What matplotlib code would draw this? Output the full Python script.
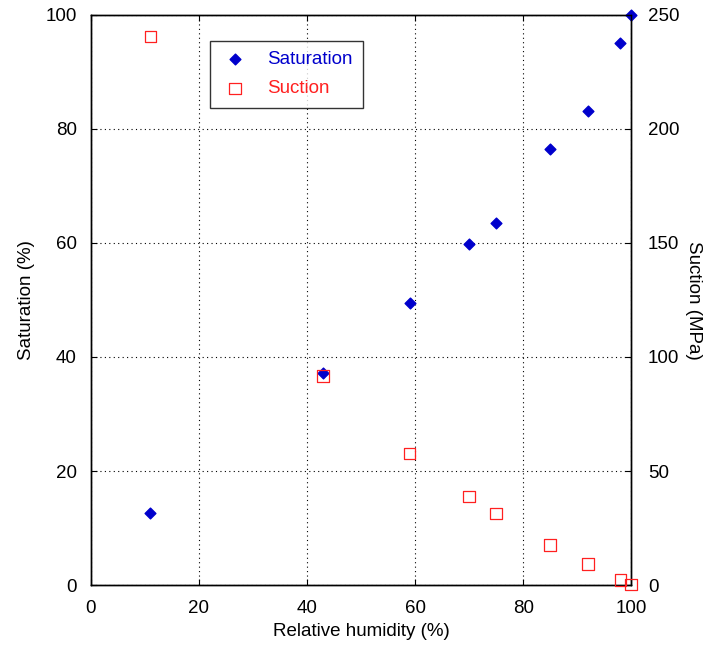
import matplotlib.pyplot as plt

# relative humidity (%)
rh = [11, 43, 59, 70, 75, 85, 92, 98, 100]
# saturation (%)
saturation = [12.6, 37.2, 49.4, 59.8, 63.5, 76.4, 83.1, 95.0, 100.0]
# suction (MPa)
suction = [240.5, 91.7, 57.6, 38.9, 31.4, 17.5, 9.1, 2.2, 0.3]

plt.rcParams['font.family'] = ['Liberation Sans', 'DejaVu Sans']

fig = plt.figure(figsize=(7.1, 6.48), dpi=100)
ax = fig.add_axes([0.128, 0.0972, 0.761, 0.8797])
ax2 = ax.twinx()

ax.scatter(rh, saturation, marker='D', s=30, color='#0000cc', clip_on=False, zorder=3)
ax2.scatter(rh, suction, marker='s', s=70, facecolor='none', edgecolor='#ff2020',
            linewidths=0.9, clip_on=False, zorder=3)

ax.set_xlim(0, 100)
ax.set_ylim(0, 100)
ax2.set_ylim(0, 250)
ax.set_xticks(range(0, 101, 20))
ax.set_yticks(range(0, 101, 20))
ax2.set_yticks(range(0, 251, 50))

ax.grid(True, color='black', linestyle=(0, (1, 3)), linewidth=0.8)
ax.set_axisbelow(True)

for a in (ax, ax2):
    a.tick_params(direction='in', length=4, labelsize=13.5, pad=10)
    for s in a.spines.values():
        s.set_linewidth(1.0)
ax.tick_params(top=True)
ax.tick_params(axis='x', pad=11)
ax2.tick_params(pad=12)

ax.set_xlabel('Relative humidity (%)', fontsize=13.5, labelpad=4)
ax.set_ylabel('Saturation (%)', fontsize=13.5, labelpad=8)
ax2.set_ylabel('Suction (MPa)', fontsize=13.5, rotation=270, labelpad=16)

# legend
h1 = ax.scatter([], [], marker='D', s=30, color='#0000cc')
h2 = ax.scatter([], [], marker='s', s=70, facecolor='none', edgecolor='#ff2020', linewidths=0.9)
leg = ax2.legend([h1, h2], ['Saturation', 'Suction'], loc='upper left',
                 bbox_to_anchor=(0.22, 0.955), fontsize=13.5, frameon=True,
                 fancybox=False, edgecolor='black', borderpad=0.55,
                 handlelength=1.6, handletextpad=0.9, labelspacing=0.65,
                 borderaxespad=0)
leg.get_frame().set_linewidth(1.0)
leg.get_texts()[0].set_color('#0000cc')
leg.get_texts()[1].set_color('#ff2020')

fig.savefig('out.png', dpi=100)
